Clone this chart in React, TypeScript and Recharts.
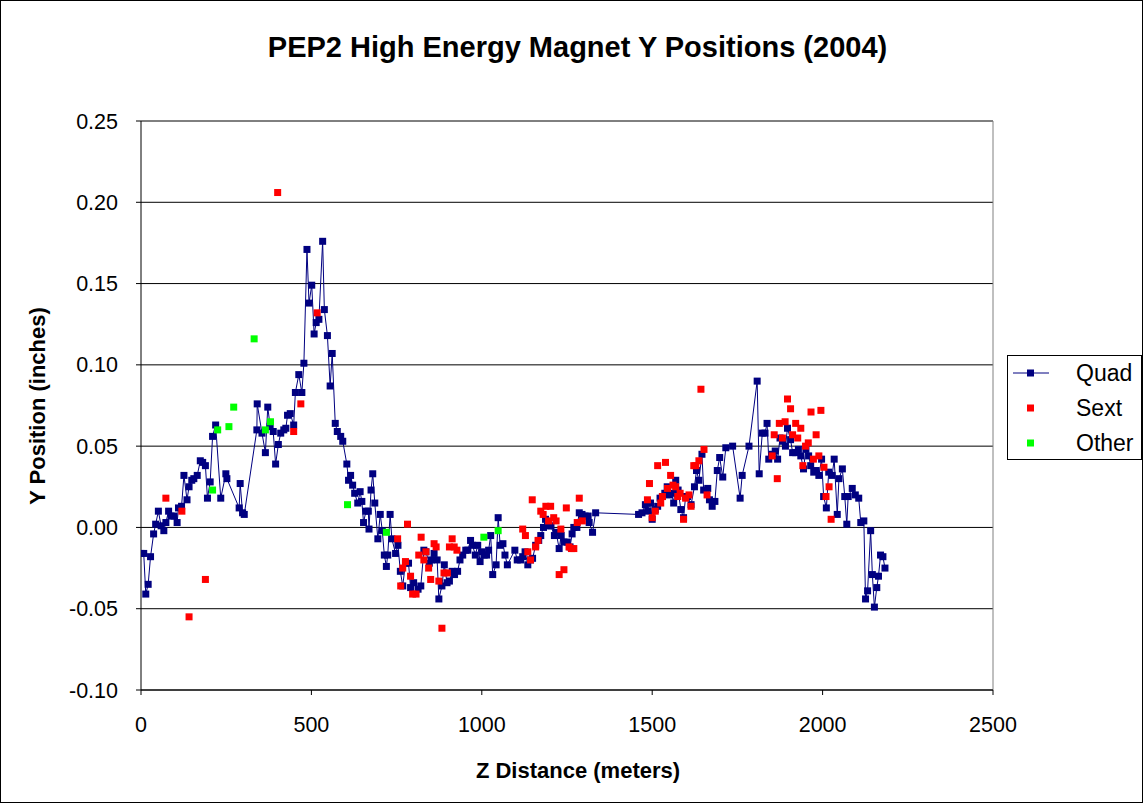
import {
  ScatterChart,
  Scatter,
  XAxis,
  YAxis,
  CartesianGrid,
  Legend,
  ReferenceLine,
} from "recharts";

// Z distance (m) / Y position (in)
const quadZ = [
  0, 8, 14, 21, 28, 37, 43, 51, 59, 67, 73, 81, 88, 97, 106, 110, 119, 126, 135, 141,
  149, 155, 165, 174, 181, 189, 195, 203, 210, 219, 234, 249, 252, 288, 291, 298, 303, 340, 341, 355,
  365, 372, 379, 388, 395, 403, 410, 419, 425, 430, 438, 448, 453, 463, 472, 478, 487, 493, 501, 508,
  514, 522, 533, 538, 547, 555, 561, 570, 576, 586, 592, 604, 609, 615, 621, 627, 636, 643, 648, 653,
  660, 667, 669, 675, 680, 686, 695, 702, 708, 714, 720, 724, 731, 736, 747, 754, 761, 768, 776, 785,
  791, 800, 813, 821, 830, 836, 846, 852, 860, 869, 874, 883, 890, 898, 905, 913, 920, 929, 936, 944,
  953, 959, 967, 973, 981, 988, 995, 1001, 1007, 1014, 1020, 1026, 1032, 1042, 1048, 1054, 1062, 1068, 1075, 1097,
  1104, 1114, 1120, 1127, 1135, 1143, 1149, 1158, 1167, 1173, 1181, 1187, 1196, 1203, 1213, 1218, 1227, 1233, 1241, 1251,
  1259, 1265, 1270, 1279, 1286, 1294, 1303, 1312, 1315, 1325, 1334, 1460, 1470, 1480, 1487, 1495, 1500, 1509, 1516, 1523,
  1530, 1537, 1544, 1549, 1557, 1563, 1569, 1576, 1584, 1592, 1598, 1604, 1614, 1624, 1630, 1637, 1646, 1651, 1663, 1668,
  1676, 1684, 1691, 1698, 1707, 1716, 1736, 1758, 1764, 1784, 1808, 1814, 1823, 1831, 1837, 1842, 1852, 1861, 1868, 1875,
  1883, 1891, 1897, 1906, 1912, 1921, 1929, 1936, 1944, 1951, 1959, 1965, 1974, 1981, 1989, 1997, 2003, 2011, 2018, 2028,
  2034, 2043, 2048, 2058, 2065, 2071, 2075, 2087, 2096, 2106, 2112, 2121, 2126, 2132, 2141, 2146, 2152, 2159, 2164, 2170,
  2177, 2183,
];
const quadY = [
  -0.016, -0.016, -0.041, -0.035, -0.018, -0.004, 0.002, 0.01, 0.001, -0.002, 0.003, 0.01, 0.007, 0.007, 0.003, 0.012, 0.013, 0.032, 0.017, 0.025,
  0.029, 0.03, 0.032, 0.041, 0.04, 0.038, 0.018, 0.028, 0.056, 0.063, 0.018, 0.033, 0.03, 0.012, 0.027, 0.009, 0.008, 0.06, 0.076, 0.058,
  0.046, 0.074, 0.062, 0.059, 0.039, 0.051, 0.058, 0.06, 0.061, 0.069, 0.07, 0.063, 0.083, 0.094, 0.083, 0.101, 0.171, 0.138, 0.149, 0.119,
  0.126, 0.128, 0.176, 0.134, 0.118, 0.087, 0.107, 0.064, 0.059, 0.056, 0.053, 0.039, 0.029, 0.032, 0.026, 0.021, 0.015, 0.022, 0.016, 0.003,
  0.01, 0.01, -0.001, 0.023, 0.033, 0.015, -0.007, 0.008, -0.002, -0.017, -0.024, -0.017, 0.008, -0.007, -0.016, -0.011, -0.027, -0.036, -0.022, -0.022,
  -0.037, -0.034, -0.038, -0.036, -0.014, -0.015, -0.022, -0.02, -0.016, -0.02, -0.044, -0.036, -0.023, -0.034, -0.033, -0.027, -0.029, -0.027, -0.02, -0.017,
  -0.014, -0.014, -0.008, -0.011, -0.017, -0.011, -0.021, -0.015, -0.017, -0.017, -0.014, -0.005, -0.029, -0.023, 0.006, -0.011, -0.01, -0.017, -0.023, -0.014,
  -0.02, -0.02, -0.018, -0.015, -0.023, -0.02, -0.019, -0.011, -0.008, -0.005, 0.0, 0.005, 0.001, 0.001, -0.005, -0.003, -0.013, -0.005, -0.009, -0.009,
  -0.012, -0.004, 0.0, 0.0, 0.009, 0.008, 0.007, 0.007, 0.003, -0.003, 0.009, 0.008, 0.009, 0.014, 0.01, 0.015, 0.005, 0.011, 0.013, 0.018,
  0.019, 0.021, 0.025, 0.02, 0.021, 0.015, 0.029, 0.023, 0.011, 0.006, 0.019, 0.019, 0.014, 0.025, 0.035, 0.029, 0.045, 0.023, 0.024, 0.017,
  0.013, 0.016, 0.035, 0.043, 0.031, 0.049, 0.05, 0.018, 0.032, 0.05, 0.09, 0.033, 0.058, 0.058, 0.064, 0.042, 0.045, 0.047, 0.042, 0.055,
  0.053, 0.05, 0.061, 0.054, 0.046, 0.046, 0.048, 0.044, 0.036, 0.048, 0.044, 0.038, 0.034, 0.035, 0.032, 0.042, 0.019, 0.012, 0.034, 0.032,
  0.042, 0.008, 0.03, 0.036, 0.019, 0.002, 0.019, 0.024, 0.02, 0.018, 0.003, 0.004, -0.044, -0.039, -0.002, -0.029, -0.049, -0.037, -0.03, -0.017,
  -0.018, -0.025,
];

const sextZ = [
  73, 120, 141, 189, 401, 448, 469, 517, 753, 762, 768, 776, 782, 791, 797, 807, 815, 822, 830, 836,
  844, 850, 860, 866, 874, 883, 889, 899, 905, 913, 919, 927, 1120, 1128, 1135, 1143, 1148, 1158, 1165, 1173,
  1180, 1188, 1196, 1202, 1211, 1218, 1227, 1232, 1241, 1248, 1256, 1263, 1270, 1280, 1286, 1295, 1486, 1492, 1500, 1509,
  1516, 1525, 1530, 1539, 1545, 1554, 1561, 1569, 1575, 1582, 1592, 1598, 1608, 1614, 1622, 1628, 1637, 1643, 1652, 1661,
  1852, 1858, 1867, 1873, 1882, 1890, 1897, 1906, 1912, 1921, 1927, 1936, 1942, 1950, 1958, 1966, 1973, 1981, 1989, 1995,
  2004, 2010, 2019, 2025,
];
const sextY = [
  0.018, 0.01, -0.055, -0.032, 0.206, 0.059, 0.076, 0.132, -0.007, -0.036, -0.025, -0.021, 0.002, -0.03, -0.041, -0.041, -0.017, -0.006, -0.02, -0.015,
  -0.025, -0.032, -0.01, -0.012, -0.033, -0.062, -0.028, -0.028, -0.012, -0.007, -0.012, -0.014, -0.001, -0.005, -0.015, -0.02, 0.017, -0.012, -0.008, 0.01,
  0.008, 0.013, 0.004, 0.013, 0.006, 0.004, -0.029, -0.001, -0.026, 0.012, -0.012, -0.013, -0.013, 0.003, 0.018, 0.004, 0.017, 0.027, 0.006, 0.01,
  0.038, 0.015, 0.019, 0.04, 0.024, 0.032, 0.026, 0.025, 0.019, 0.021, 0.005, 0.018, 0.02, 0.013, 0.038, 0.038, 0.041, 0.085, 0.048, 0.02,
  0.044, 0.057, 0.03, 0.064, 0.055, 0.065, 0.079, 0.073, 0.057, 0.064, 0.055, 0.061, 0.038, 0.05, 0.052, 0.071, 0.042, 0.057, 0.044, 0.072,
  0.037, 0.019, 0.025, 0.005,
];

const otherZ = [210, 225, 258, 272, 332, 365, 380, 606, 720, 1006, 1048];
const otherY = [0.023, 0.06, 0.062, 0.074, 0.116, 0.06, 0.065, 0.014, -0.003, -0.006, -0.002];

const xTicks = [0, 500, 1000, 1500, 2000, 2500];
const yTicks = [-0.1, -0.05, 0, 0.05, 0.1, 0.15, 0.2, 0.25];

const QUAD = "#000080";
const SEXT = "#ff0000";
const OTHER = "#00ff00";
const FONT = "'Liberation Sans', Arial, sans-serif";

const legendItems = [
  { name: "Quad", color: QUAD, line: true },
  { name: "Sext", color: SEXT, line: false },
  { name: "Other", color: OTHER, line: false },
];

const quadData = quadZ.map((z, i) => ({ z, y: quadY[i] }));
const sextData = sextZ.map((z, i) => ({ z, y: sextY[i] }));
const otherData = otherZ.map((z, i) => ({ z, y: otherY[i] }));

const square = (color: string) => (props: any) => (
  <rect x={props.cx - 3.5} y={props.cy - 3.5} width={7} height={7} fill={color} />
);

const LegendBox = () => (
  <svg width={135} height={105} style={{ display: "block" }}>
    <rect x={0.5} y={0.5} width={134} height={104} fill="#fff" stroke="#000" />
    {legendItems.map((item, i) => {
      const cy = 18 + i * 35;
      return (
        <g key={item.name}>
          {item.line && <line x1={6} x2={42} y1={cy} y2={cy} stroke={item.color} strokeWidth={1} />}
          <rect x={20} y={cy - 3.5} width={7} height={7} fill={item.color} />
          <text x={69} y={cy} dy="0.35em" fontSize={23} fontFamily={FONT} fill="#000">
            {item.name}
          </text>
        </g>
      );
    })}
  </svg>
);

const tickStyle = { fontSize: 21.5, fill: "#000", fontFamily: FONT };

export default function App() {
  return (
    <div style={{ position: "absolute", left: 0, top: 0, width: 1143, height: 803, background: "#fff" }}>
      <ScatterChart
        width={1143}
        height={803}
        margin={{ top: 121, right: 150, bottom: 73, left: 61 }}
      >
        <CartesianGrid vertical={false} stroke="#000" strokeWidth={1} />
        <XAxis
          type="number"
          dataKey="z"
          domain={[0, 2500]}
          ticks={xTicks}
          height={40}
          tick={tickStyle}
          tickSize={5}
          tickMargin={22}
          axisLine={{ stroke: "#000" }}
          tickLine={{ stroke: "#000" }}
          allowDataOverflow
        />
        <YAxis
          type="number"
          dataKey="y"
          domain={[-0.1, 0.25]}
          ticks={yTicks}
          width={80}
          tick={tickStyle}
          tickSize={5}
          tickMargin={18}
          tickFormatter={(v: number) => v.toFixed(2)}
          axisLine={{ stroke: "#000" }}
          tickLine={{ stroke: "#000" }}
          allowDataOverflow
        />
        <ReferenceLine x={2500} stroke="#808080" />
        <Legend
          layout="horizontal"
          verticalAlign="middle"
          align="center"
          content={() => <LegendBox />}
          wrapperStyle={{ left: 1007, top: 355, width: 135, height: 105 }}
        />
        <Scatter
          name="Quad"
          data={quadData}
          line={{ stroke: QUAD, strokeWidth: 1 }}
          lineType="joint"
          shape={square(QUAD)}
          isAnimationActive={false}
        />
        <Scatter name="Sext" data={sextData} shape={square(SEXT)} isAnimationActive={false} />
        <Scatter name="Other" data={otherData} shape={square(OTHER)} isAnimationActive={false} />
      </ScatterChart>

      <div
        style={{
          position: "absolute",
          left: 12,
          top: 33,
          width: 1131,
          textAlign: "center",
          fontFamily: FONT,
          fontWeight: "bold",
          fontSize: 29,
          lineHeight: 1,
          whiteSpace: "nowrap",
        }}
      >
        PEP2 High Energy Magnet Y Positions (2004)
      </div>
      <div
        style={{
          position: "absolute",
          left: 428,
          top: 760,
          width: 300,
          textAlign: "center",
          fontFamily: FONT,
          fontWeight: "bold",
          fontSize: 22,
          lineHeight: 1,
        }}
      >
        Z Distance (meters)
      </div>
      <div
        style={{
          position: "absolute",
          left: 38 - 150,
          top: 406 - 11,
          width: 300,
          height: 22,
          textAlign: "center",
          fontFamily: FONT,
          fontWeight: "bold",
          fontSize: 22,
          lineHeight: "22px",
          transform: "rotate(-90deg)",
          whiteSpace: "nowrap",
        }}
      >
        Y Position (inches)
      </div>
      <div
        style={{
          position: "absolute",
          left: 0,
          top: 0,
          width: 1143,
          height: 803,
          border: "1px solid #000",
          boxSizing: "border-box",
          pointerEvents: "none",
        }}
      />
    </div>
  );
}
